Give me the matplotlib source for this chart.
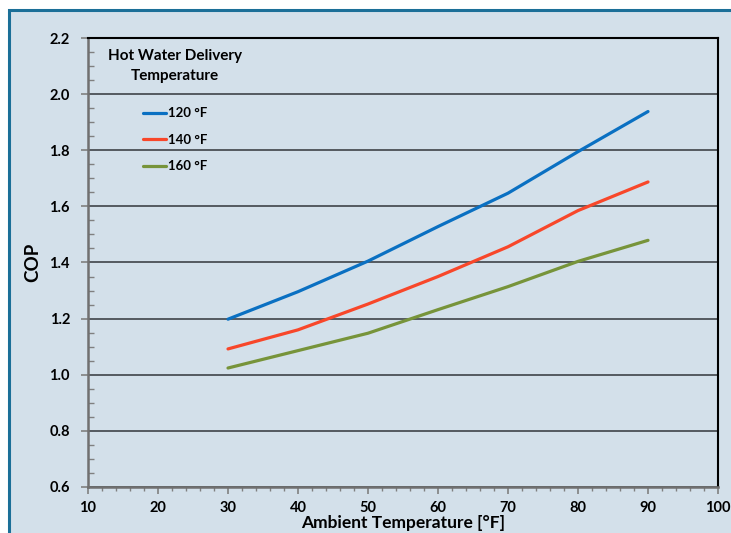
import matplotlib.pyplot as plt
from matplotlib.patches import Rectangle
from matplotlib.ticker import MultipleLocator

# Ambient temperature, °F
ambient = [30, 40, 50, 60, 70, 80, 90]

# COP for each hot water delivery temperature
cop_120 = [1.198, 1.296, 1.405, 1.528, 1.647, 1.795, 1.938]
cop_140 = [1.092, 1.160, 1.252, 1.350, 1.456, 1.585, 1.687]
cop_160 = [1.024, 1.086, 1.148, 1.232, 1.314, 1.404, 1.479]

series = [
    ("120 °F", cop_120, "#0a70c2"),
    ("140 °F", cop_140, "#f8472a"),
    ("160 °F", cop_160, "#77943a"),
]

plt.rcParams['font.family'] = ['Lato', 'DejaVu Sans']
plt.rcParams['font.weight'] = 'bold'

fig = plt.figure(figsize=(7.31, 5.33), dpi=100)
fig.patch.set_facecolor('white')
bg = '#d3e0ea'
# panel with blue border, behind the axes
panel = Rectangle((9 / 731, -0.05), 1.0, 1 - 10 / 533 + 0.05,
                  transform=fig.transFigure, facecolor=bg,
                  edgecolor='#1b6f98', linewidth=2.2, zorder=-10)
fig.patches.append(panel)

ax = fig.add_axes([88 / 731, 1 - 487 / 533, 630 / 731, 449 / 533])
ax.set_facecolor('none')

for label, vals, color in series:
    ax.plot(ambient, vals, color=color, linewidth=2.3, label=label,
            solid_capstyle='round', solid_joinstyle='round', zorder=3)

ax.set_xlim(10, 100)
ax.set_ylim(0.6, 2.2)
ax.xaxis.set_major_locator(MultipleLocator(10))
ax.xaxis.set_minor_locator(MultipleLocator(2))
ax.yaxis.set_major_locator(MultipleLocator(0.2))
ax.yaxis.set_minor_locator(MultipleLocator(0.05))
ax.yaxis.set_major_formatter(lambda v, pos: f"{v:.1f}")

ax.grid(axis='y', which='major', color='#4a4f55', linewidth=1.3)
ax.tick_params(axis='both', which='major', labelsize=10.5, color='#808080',
               length=5, width=1.2, direction='out')
ax.tick_params(axis='y', which='major', pad=8)
ax.tick_params(axis='x', which='major', pad=5)
ax.tick_params(axis='y', which='minor', direction='in', length=4,
               color='#808080', width=1)
ax.tick_params(axis='x', which='minor', direction='out', length=3,
               color='#808080', width=1)

for side in ['top', 'right']:
    ax.spines[side].set_color('black')
    ax.spines[side].set_linewidth(1.5)
for side in ['left', 'bottom']:
    ax.spines[side].set_color('#707070')
    ax.spines[side].set_linewidth(1.8)

ax.set_ylabel('COP', fontsize=13.5, fontweight='bold', labelpad=6)
ax.set_xlabel('Ambient Temperature [°F]', fontsize=12.5, fontweight='bold',
              labelpad=0)

# legend title as plain text, entries below it
ax.text(0.138, 0.938, 'Hot Water Delivery\nTemperature', transform=ax.transAxes,
        ha='center', va='center', fontsize=11, fontweight='bold',
        multialignment='center', linespacing=1.55)
leg = ax.legend(loc='upper left', bbox_to_anchor=(0.0873, 0.846),
                frameon=False, fontsize=9.5, handlelength=1.75,
                handletextpad=0.15, labelspacing=1.1, borderpad=0,
                borderaxespad=0)
for t in leg.get_texts():
    t.set_fontweight('bold')

fig.savefig('out.png', dpi=100, facecolor=fig.get_facecolor())
